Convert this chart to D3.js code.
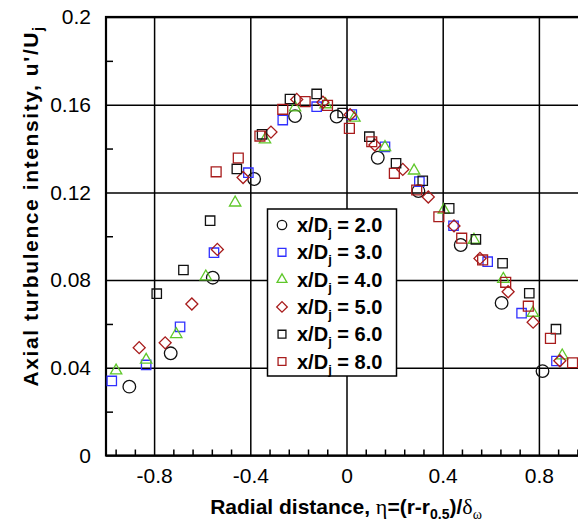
<!DOCTYPE html>
<html>
<head>
<meta charset="utf-8">
<script src="https://cdn.jsdelivr.net/npm/d3@7"></script>
<style>
  body { margin: 0; background: #fff; }
  svg { display: block; font-family: "Liberation Sans", Arial, sans-serif; }
</style>
</head>
<body>
<svg id="chart" width="578" height="525"></svg>
<script>
// x/Dj = 2.0 (open circles)
const eta20 = [-0.903, -0.731, -0.556, -0.384, -0.214, -0.041, 0.130, 0.299, 0.475, 0.645, 0.815];
const u20 = [0.0314, 0.0466, 0.0811, 0.1261, 0.1548, 0.1546, 0.1358, 0.1206, 0.0960, 0.0696, 0.0385];
// x/Dj = 3.0 (blue squares)
const eta30 = [-0.976, -0.833, -0.692, -0.551, -0.408, -0.265, -0.124, 0.022, 0.160, 0.303, 0.445, 0.587, 0.728, 0.873];
const u30 = [0.0340, 0.0413, 0.0587, 0.0925, 0.1290, 0.1530, 0.1591, 0.1555, 0.1408, 0.1249, 0.1048, 0.0884, 0.0649, 0.0431];
// x/Dj = 4.0 (green triangles)
const eta40 = [-0.958, -0.833, -0.708, -0.585, -0.463, -0.339, -0.214, -0.087, 0.033, 0.160, 0.281, 0.405, 0.530, 0.652, 0.775, 0.897];
const u40 = [0.0387, 0.0436, 0.0553, 0.0816, 0.1153, 0.1441, 0.1587, 0.1601, 0.1540, 0.1406, 0.1299, 0.1120, 0.0983, 0.0805, 0.0650, 0.0456];
// x/Dj = 5.0 (red diamonds)
const eta50 = [-0.862, -0.754, -0.643, -0.537, -0.430, -0.314, -0.207, -0.098, 0.015, 0.118, 0.234, 0.340, 0.447, 0.555, 0.672, 0.776, 0.887];
const u50 = [0.0492, 0.0514, 0.0691, 0.0940, 0.1268, 0.1475, 0.1624, 0.1611, 0.1554, 0.1416, 0.1305, 0.1179, 0.1047, 0.0899, 0.0747, 0.0608, 0.0432];
// x/Dj = 6.0 (black squares)
const eta60 = [-0.789, -0.678, -0.567, -0.456, -0.351, -0.235, -0.124, -0.016, 0.095, 0.206, 0.317, 0.427, 0.538, 0.649, 0.760, 0.871];
const u60 = [0.0738, 0.0846, 0.1071, 0.1307, 0.1465, 0.1626, 0.1649, 0.1562, 0.1454, 0.1333, 0.1253, 0.1127, 0.0986, 0.0877, 0.0740, 0.0576];
// x/Dj = 8.0 (dark red squares)
const eta80 = [-0.542, -0.450, -0.360, -0.265, -0.172, -0.079, 0.012, 0.105, 0.199, 0.292, 0.384, 0.479, 0.566, 0.662, 0.756, 0.848, 0.940];
const u80 = [0.1294, 0.1357, 0.1457, 0.1579, 0.1614, 0.1597, 0.1492, 0.1431, 0.1287, 0.1211, 0.1089, 0.0991, 0.0892, 0.0790, 0.0681, 0.0534, 0.0423];

const seriesNames = ["2.0", "3.0", "4.0", "5.0", "6.0", "8.0"];
const xTicks = [-0.8, -0.4, 0, 0.4, 0.8];
const yTicks = [0, 0.04, 0.08, 0.12, 0.16, 0.2];

const PLOT = { left: 106, right: 587, top: 17, bottom: 455.5 };
const FONT = '"Liberation Sans", Arial, sans-serif';
const SERIF = '"Liberation Serif", "DejaVu Serif", serif';

const svg = d3.select("#chart");

const x = d3.scaleLinear().domain([-1, 1]).range([PLOT.left, PLOT.right]);
const y = d3.scaleLinear().domain([0, 0.2]).range([PLOT.bottom, PLOT.top]);

// symbol styles per series
const styles = [
  { type: d3.symbolCircle, size: 125, color: "#111", rot: 0, lsize: 70 },
  { type: d3.symbolSquare, size: 88, color: "#3030ff", rot: 0, lsize: 62 },
  { type: d3.symbolTriangle, size: 56, color: "#5fc72a", rot: 0, lsize: 42 },
  { type: d3.symbolSquare, size: 72, color: "#a81c1c", rot: 45, lsize: 56 },
  { type: d3.symbolSquare, size: 88, color: "#111", rot: 0, lsize: 62 },
  { type: d3.symbolSquare, size: 98, color: "#a81c1c", rot: 0, lsize: 62 }
];

const etas = [eta20, eta30, eta40, eta50, eta60, eta80];
const us = [u20, u30, u40, u50, u60, u80];

// gridlines
svg.append("g")
  .attr("class", "grid-x")
  .attr("transform", `translate(0,${PLOT.bottom})`)
  .call(d3.axisBottom(x).tickValues(xTicks).tickSize(-(PLOT.bottom - PLOT.top)).tickFormat(""))
  .call(g => g.select(".domain").remove())
  .selectAll("line").attr("stroke", "#000").attr("stroke-width", 1.5);

svg.append("g")
  .attr("class", "grid-y")
  .attr("transform", `translate(${PLOT.left},0)`)
  .call(d3.axisLeft(y).tickValues(yTicks).tickSize(-(PLOT.right - PLOT.left)).tickFormat(""))
  .call(g => g.select(".domain").remove())
  .selectAll("line").attr("stroke", "#000").attr("stroke-width", 1.5);

// minor ticks
const xMinor = d3.range(-0.96, 0.97, 0.08).filter(v => Math.abs(v / 0.4 - Math.round(v / 0.4)) > 0.01);
svg.append("g")
  .attr("transform", `translate(0,${PLOT.bottom})`)
  .call(d3.axisBottom(x).tickValues(xMinor).tickSize(-6).tickFormat(""))
  .call(g => g.select(".domain").remove())
  .selectAll("line").attr("stroke", "#000").attr("stroke-width", 1.5);

const yMinor = [0.02, 0.06, 0.1, 0.14, 0.18];
svg.append("g")
  .attr("transform", `translate(${PLOT.left},0)`)
  .call(d3.axisLeft(y).tickValues(yMinor).tickSize(-7).tickFormat(""))
  .call(g => g.select(".domain").remove())
  .selectAll("line").attr("stroke", "#000").attr("stroke-width", 1.5);

// frame
svg.append("rect")
  .attr("x", PLOT.left).attr("y", PLOT.top)
  .attr("width", PLOT.right - PLOT.left).attr("height", PLOT.bottom - PLOT.top)
  .attr("fill", "none").attr("stroke", "#000").attr("stroke-width", 2.2);

// tick labels
svg.append("g")
  .attr("transform", `translate(${PLOT.left},0)`)
  .call(d3.axisLeft(y).tickValues(yTicks).tickSize(0).tickPadding(15).tickFormat(d => String(+d.toFixed(2))))
  .call(g => g.select(".domain").remove())
  .selectAll("text").attr("font-family", FONT).attr("font-size", 21).attr("fill", "#000");

svg.append("g")
  .attr("transform", `translate(0,${PLOT.bottom})`)
  .call(d3.axisBottom(x).tickValues(xTicks).tickSize(0).tickPadding(13).tickFormat(d => String(+d.toFixed(1))))
  .call(g => g.select(".domain").remove())
  .selectAll("text").attr("font-family", FONT).attr("font-size", 21).attr("fill", "#000");

// data points
const marks = svg.append("g").attr("class", "points");
etas.forEach((ex, i) => {
  const st = styles[i];
  const sym = d3.symbol().type(st.type).size(st.size);
  marks.append("g")
    .selectAll("path")
    .data(ex.map((e, k) => [e, us[i][k]]))
    .join("path")
    .attr("d", sym)
    .attr("transform", d => `translate(${x(d[0])},${y(d[1])}) rotate(${st.rot})`)
    .attr("fill", "none")
    .attr("stroke", st.color)
    .attr("stroke-width", 1.3);
});

// legend
const legend = svg.append("g").attr("class", "legend");
legend.append("rect")
  .attr("x", 267.5).attr("y", 209)
  .attr("width", 129).attr("height", 167)
  .attr("fill", "#fff").attr("stroke", "#000").attr("stroke-width", 1.5);

seriesNames.forEach((name, i) => {
  const st = styles[i];
  const ly = 225 + i * 27.3;
  legend.append("path")
    .attr("d", d3.symbol().type(st.type).size(st.lsize))
    .attr("transform", `translate(282,${ly}) rotate(${st.rot})`)
    .attr("fill", "none").attr("stroke", st.color).attr("stroke-width", 1.3);
  const t = legend.append("text")
    .attr("x", 297).attr("y", ly + 7)
    .attr("font-family", FONT).attr("font-size", 20).attr("font-weight", "bold");
  t.append("tspan").text("x/D");
  t.append("tspan").attr("font-size", 13).attr("dy", 5).text("j");
  t.append("tspan").attr("dy", -5).text(" = " + name);
});

// axis titles
const xt = svg.append("text")
  .attr("x", 346).attr("y", 514)
  .attr("text-anchor", "middle")
  .attr("font-family", FONT).attr("font-size", 21).attr("font-weight", "bold");
xt.append("tspan").text("Radial distance, ");
xt.append("tspan").attr("font-family", SERIF).attr("font-weight", "normal").attr("font-size", 22).text("η");
xt.append("tspan").text("=(r-r");
xt.append("tspan").attr("font-size", 14).attr("dy", 5).text("0.5");
xt.append("tspan").attr("dy", -5).text(")/");
xt.append("tspan").attr("font-family", SERIF).attr("font-weight", "normal").attr("font-size", 22).text("δ");
xt.append("tspan").attr("font-family", SERIF).attr("font-weight", "normal").attr("font-size", 14).attr("dy", 5).text("ω");

const yt = svg.append("text")
  .attr("transform", "translate(38,206) rotate(-90)")
  .attr("text-anchor", "middle")
  .attr("letter-spacing", 1.6)
  .attr("font-family", FONT).attr("font-size", 21).attr("font-weight", "bold");
yt.append("tspan").text("Axial turbulence intensity, u'/U");
yt.append("tspan").attr("font-size", 14).attr("dy", 5).text("j");
</script>
</body>
</html>
